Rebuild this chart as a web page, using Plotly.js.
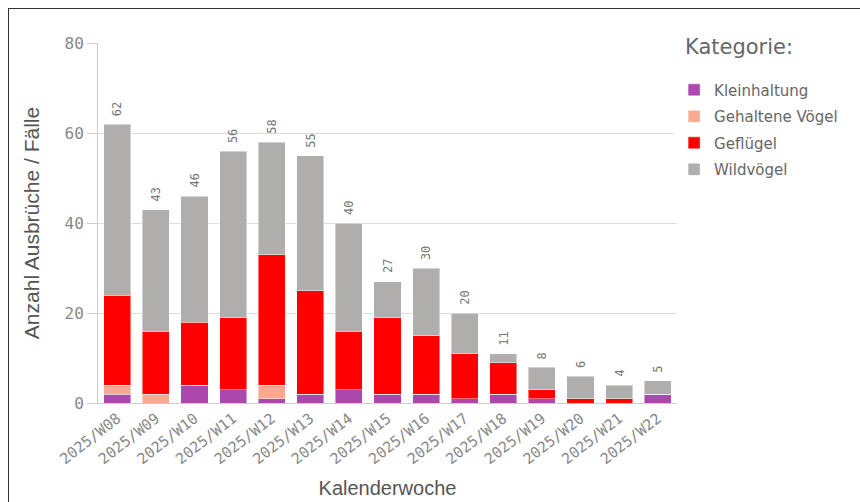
<!DOCTYPE html>
<html>
<head>
<meta charset="utf-8">
<script src="https://cdn.plot.ly/plotly-3.0.1.min.js"></script>
<style>
html,body{margin:0;padding:0;overflow:hidden;background:#fff;}
#chart{position:absolute;left:0;top:0;width:860px;height:502px;}
#frame{position:absolute;left:8px;top:8px;width:1000px;height:1000px;border:1.5px solid #333;pointer-events:none;}
</style>
</head>
<body>
<div id="chart"></div>
<div id="frame"></div>
<script>
const weeks = ["2025/W08","2025/W09","2025/W10","2025/W11","2025/W12","2025/W13","2025/W14","2025/W15","2025/W16","2025/W17","2025/W18","2025/W19","2025/W20","2025/W21","2025/W22"];
const kleinhaltung = [2,0,4,3,1,2,3,2,2,1,2,1,0,0,2];
const gehalteneVoegel = [2,2,0,0,3,0,0,0,0,0,0,0,0,0,0];
const gefluegel = [20,14,14,16,29,23,13,17,13,10,7,2,1,1,0];
const wildvoegel = [38,27,28,37,25,30,24,8,15,9,2,5,5,3,3];

const seriesNames = ["Kleinhaltung","Gehaltene Vögel","Geflügel","Wildvögel"];
const seriesData = [kleinhaltung, gehalteneVoegel, gefluegel, wildvoegel];
const seriesColors = ["#ab47ad","#f8a98f","#ff0000","#afaeac"];

const traces = seriesData.map((vals, i) => ({
  type: "bar",
  name: seriesNames[i],
  x: weeks,
  y: vals,
  legendgroup: "g" + i,
  marker: {color: seriesColors[i], line: {color: "rgba(255,255,255,0.45)", width: 1}},
  hoverinfo: "x+y+name"
}));

const totals = weeks.map((w, j) => seriesData.reduce((s, arr) => s + arr[j], 0));

const annotations = weeks.map((w, j) => ({
  x: w, y: totals[j], xref: "x", yref: "y",
  text: String(totals[j]),
  textangle: -90,
  showarrow: false,
  yanchor: "bottom",
  yshift: 6,
  font: {family: "DejaVu Sans Mono, monospace", size: 12, color: "#777"}
}));

annotations.push({
  xref: "paper", yref: "paper",
  x: 1.011, y: 1.0, xanchor: "left", yanchor: "middle",
  yshift: -4,
  text: "Kategorie:",
  showarrow: false,
  font: {family: "DejaVu Sans, sans-serif", size: 21, color: "#666"}
});

const layout = {
  width: 860, height: 502,
  margin: {l: 98, r: 183, t: 43, b: 99, autoexpand: false},
  paper_bgcolor: "#fff", plot_bgcolor: "#fff",
  barmode: "stack",
  bargap: 0.3,
  showlegend: true,
  legend: {
    x: 0.995, xanchor: "left", y: 0.915, yanchor: "top",
    traceorder: "grouped",
    tracegroupgap: 4,
    font: {family: "DejaVu Sans, sans-serif", size: 15, color: "#666"},
    itemwidth: 30
  },
  xaxis: {
    type: "category",
    tickangle: -38,
    tickfont: {family: "DejaVu Sans Mono, monospace", size: 15, color: "#888"},
    showgrid: false,
    showline: true, linecolor: "#ccc", linewidth: 1,
    ticks: "",
    title: {text: "Kalenderwoche", font: {family: "Liberation Sans, Arial, sans-serif", size: 20, color: "#555"}, standoff: 13}
  },
  yaxis: {
    range: [0, 80],
    tickvals: [0, 20, 40, 60, 80],
    tickfont: {family: "DejaVu Sans Mono, monospace", size: 16, color: "#888"},
    showgrid: true, gridcolor: "#dddddd", gridwidth: 1,
    showline: true, linecolor: "#ccc", linewidth: 1,
    ticks: "outside", ticklen: 10, tickcolor: "#ccc",
    zeroline: false,
    title: {text: "Anzahl Ausbrüche / Fälle", font: {family: "Liberation Sans, Arial, sans-serif", size: 21, color: "#555"}, standoff: 19}
  },
  annotations: annotations
};

Plotly.newPlot("chart", traces, layout, {displayModeBar: false, staticPlot: true});
</script>
</body>
</html>
